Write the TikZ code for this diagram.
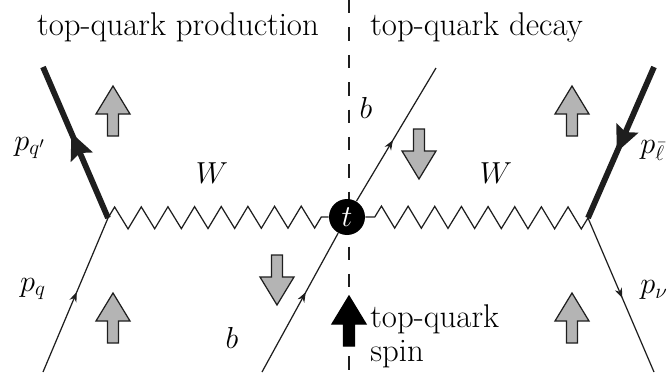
\documentclass[tikz,border=0pt]{standalone}
\usepackage{amsmath,amssymb}
\usetikzlibrary{arrows.meta,decorations.pathmorphing,decorations.markings}
\definecolor{spingray}{RGB}{180,180,180}
\definecolor{linedark}{RGB}{30,30,30}
\newcommand{\labelfont}{\fontsize{18.7}{19.3}\selectfont}
\tikzset{
  quarkline/.style={linedark, line width=0.7pt},
  heavyline/.style={linedark, line width=3.3pt},
  wboson/.style={linedark, line width=0.7pt, decorate,
    decoration={zigzag, segment length=0.5333cm, amplitude=0.22cm}},
  thinarrow/.style={postaction={decorate, decoration={markings,
    mark=at position #1 with {\arrow{Stealth[length=0.2cm,width=0.15cm]}}}}},
  heavyarrow/.style={postaction={decorate, decoration={markings,
    mark=at position #1 with {\arrow{Stealth[length=0.52cm,width=0.46cm,inset=0.08cm]}}}}},
  spinstyle/.style={draw=linedark, fill=spingray, line width=0.7pt},
  spinup/.pic={\path[pic actions] (0,0) -- (17,28) -- (5.5,28) -- (5.5,50) -- (-5.5,50) -- (-5.5,28) -- (-17,28) -- cycle;},
  spindown/.pic={\path[pic actions] (0,0) -- (17,-28) -- (5.5,-28) -- (5.5,-50) -- (-5.5,-50) -- (-5.5,-28) -- (-17,-28) -- cycle;},
  label/.style={font=\labelfont, inner sep=0pt}
}
\begin{document}
\begin{tikzpicture}[x=0.02cm, y=-0.02cm]
    \useasboundingbox (0,0) rectangle (667,376);

    % points of the diagram
    \coordinate (dtop) at (349,0);
    \coordinate (dbot) at (349,372);
    \coordinate (vleft) at (108,218);
    \coordinate (vright) at (588,218);
    \coordinate (qin) at (43,372);
    \coordinate (qout) at (43,67);
    \coordinate (lep) at (654,67);
    \coordinate (nu) at (654,372);
    \coordinate (bin) at (262,372);
    \coordinate (bout) at (436,68);

    \draw[quarkline, dash pattern=on 7.65pt off 7.94pt] (dtop) -- (dbot);

    \node[circle, fill=black, text=white, minimum size=0.72cm, inner sep=0pt, font=\labelfont] (top) at (347,217) {$t$};

    % quark lines
    \draw[quarkline, thinarrow=0.52] (qin) -- (vleft);
    \draw[heavyline, heavyarrow=0.565] (vleft) -- (qout);
    \draw[heavyline, heavyarrow=0.565] (lep) -- (vright);
    \draw[quarkline, thinarrow=0.52] (vright) -- (nu);
    \draw[quarkline, thinarrow=0.575] (bin) -- (top);
    \draw[quarkline, thinarrow=0.46] (top) -- (bout);

    % W lines
    \draw[wboson] (vleft) -- (top.west);
    \draw[wboson] (vright) -- (top.east);

    % spin arrows
    \pic[spinstyle] (sa) at (113,86) {spinup};
    \pic[spinstyle] (sb) at (113,293) {spinup};
    \pic[spinstyle] (sc) at (572,86) {spinup};
    \pic[spinstyle] (sd) at (572,293) {spinup};
    \pic[spinstyle] (se) at (277,305) {spindown};
    \pic[spinstyle] (sf) at (419,179) {spindown};
    \pic[spinstyle, draw=black, fill=black] (sg) at (349,296) {spinup};

    % labels
    \node[label] (prod) at (178,27) {top-quark production};
    \node[label, anchor=west] (dec) at (370,27) {top-quark decay};
    \node[label, anchor=west, align=left] (spin) at (370,336) {top-quark\\spin};
    \node[label] (wl) at (212,173) {$W$};
    \node[label] (wr) at (496,173) {$W$};
    \node[label] (bu) at (366,108) {$b$};
    \node[label] (bl) at (232,338) {$b$};
    \node[label] (pqp) at (30,148) {$p_{q'}$};
    \node[label] (pq) at (33,289) {$p_q$};
    \node[label, anchor=west] (pl) at (640,150) {$p_{\bar\ell}$};
    \node[label, anchor=west] (pn) at (640,290) {$p_\nu$};
  \end{tikzpicture}
\end{document}
